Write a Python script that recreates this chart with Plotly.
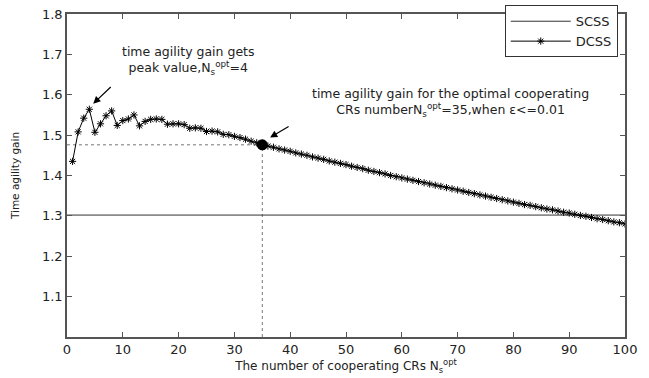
import plotly.graph_objects as go

# ---- data ----
n_coop = list(range(1, 101))
dcss_gain = [
    1.435, 1.508, 1.542, 1.564, 1.507, 1.528, 1.548, 1.560, 1.524, 1.536,
    1.540, 1.550, 1.523, 1.534, 1.539, 1.540, 1.539, 1.527, 1.528, 1.528,
    1.526, 1.517, 1.518, 1.517, 1.509, 1.510, 1.508, 1.502, 1.501, 1.497,
    1.494, 1.490, 1.485, 1.481, 1.476, 1.473, 1.470, 1.466, 1.463, 1.460,
    1.456, 1.453, 1.450, 1.446, 1.443, 1.440, 1.436, 1.433, 1.430, 1.427,
    1.423, 1.420, 1.417, 1.413, 1.410, 1.407, 1.404, 1.400, 1.397, 1.394,
    1.391, 1.388, 1.385, 1.382, 1.379, 1.376, 1.373, 1.370, 1.367, 1.364,
    1.361, 1.358, 1.355, 1.352, 1.349, 1.346, 1.343, 1.340, 1.337, 1.334,
    1.331, 1.328, 1.326, 1.323, 1.320, 1.317, 1.315, 1.312, 1.309, 1.307,
    1.304, 1.301, 1.299, 1.296, 1.293, 1.291, 1.288, 1.285, 1.283, 1.280,
]
scss_x = [0, 100]
scss_gain = [1.302, 1.302]
opt_n = 35
opt_gain = 1.476
peak_n = 4

x_ticks = [0, 10, 20, 30, 40, 50, 60, 70, 80, 90, 100]
y_ticks = [1.1, 1.2, 1.3, 1.4, 1.5, 1.6, 1.7, 1.8]

FONT = "DejaVu Sans, sans-serif"
TXT = "#222222"
AX = "#555555"

fig = go.Figure()

# dotted guide lines
fig.add_trace(go.Scatter(x=[0, opt_n], y=[opt_gain, opt_gain], mode="lines",
                         line=dict(color="#777777", width=1, dash="dot"),
                         showlegend=False, hoverinfo="skip"))
fig.add_trace(go.Scatter(x=[opt_n, opt_n], y=[1.0, opt_gain], mode="lines",
                         line=dict(color="#777777", width=1, dash="dot"),
                         showlegend=False, hoverinfo="skip"))

fig.add_trace(go.Scatter(x=scss_x, y=scss_gain, mode="lines", name="SCSS",
                         line=dict(color="#333333", width=1)))
fig.add_trace(go.Scatter(x=n_coop, y=dcss_gain, mode="lines+markers", name="DCSS",
                         line=dict(color="black", width=1),
                         marker=dict(symbol="asterisk-open", size=6,
                                     line=dict(color="black", width=1),
                                     color="black")))
# optimal point blob
fig.add_trace(go.Scatter(x=[opt_n], y=[opt_gain], mode="markers",
                         marker=dict(symbol="circle", size=11, color="black"),
                         showlegend=False, hoverinfo="skip"))

fig.update_layout(
    width=649, height=378,
    margin=dict(l=67, r=24, t=5, b=41),
    paper_bgcolor="white", plot_bgcolor="white",
    font=dict(family=FONT, size=13, color=TXT),
    showlegend=True,
    legend=dict(x=0.987, y=1.027, xanchor="right", yanchor="top",
                bgcolor="white", bordercolor="#333333", borderwidth=1,
                font=dict(size=13, color=TXT), tracegroupgap=0,
                itemwidth=60),
)

fig.update_xaxes(range=[0, 100], tickvals=x_ticks, ticktext=[str(t) for t in x_ticks],
                 showgrid=False, zeroline=False, showline=True, linecolor=AX, linewidth=1.5,
                 mirror="ticks", ticks="inside", ticklen=5, tickcolor=AX,
                 tickfont=dict(size=13, color=TXT), ticklabeloverflow="allow",
                 title=dict(text="The number of cooperating CRs N<sub>s</sub><sup>opt</sup>",
                            font=dict(size=12, color=TXT), standoff=5))
fig.update_yaxes(range=[1.0, 1.8], tickvals=y_ticks, ticktext=[f"{t:.1f}" for t in y_ticks],
                 showgrid=False, zeroline=False, showline=True, linecolor=AX, linewidth=1.5,
                 mirror="ticks", ticks="inside", ticklen=5, tickcolor=AX,
                 tickfont=dict(size=13, color=TXT), ticklabeloverflow="allow",
                 title=dict(text="Time agility gain", font=dict(size=10.5, color=TXT), standoff=20))

# annotations
fig.add_annotation(x=(188 - 67) / 558, y=1.0 - (34 - 5) / 332, xref="paper", yref="paper",
                   text="time agility gain gets<br>peak value,N<sub>s</sub><sup>opt</sup>=4",
                   showarrow=False, font=dict(size=12.5, color=TXT), align="center",
                   xanchor="center", yanchor="top")
fig.add_annotation(x=peak_n + 0.7, y=1.578, xref="x", yref="y", text="",
                   showarrow=True, arrowhead=2, arrowsize=1.2, arrowwidth=1.2,
                   arrowcolor="black", ax=19, ay=-18)

fig.add_annotation(x=(450 - 67) / 558, y=1.0 - (77 - 5) / 332, xref="paper", yref="paper",
                   text="time agility gain for the optimal cooperating<br>CRs numberN<sub>s</sub><sup>opt</sup>=35,when ε<=0.01",
                   showarrow=False, font=dict(size=12.5, color=TXT), align="center",
                   xanchor="center", yanchor="top")
fig.add_annotation(x=36.4, y=1.494, xref="x", yref="y", text="",
                   showarrow=True, arrowhead=2, arrowsize=1.2, arrowwidth=1.2,
                   arrowcolor="black", ax=20, ay=-12)

fig.write_html("out.html", config={"displayModeBar": False},
               post_script="document.body.style.margin='0';")
